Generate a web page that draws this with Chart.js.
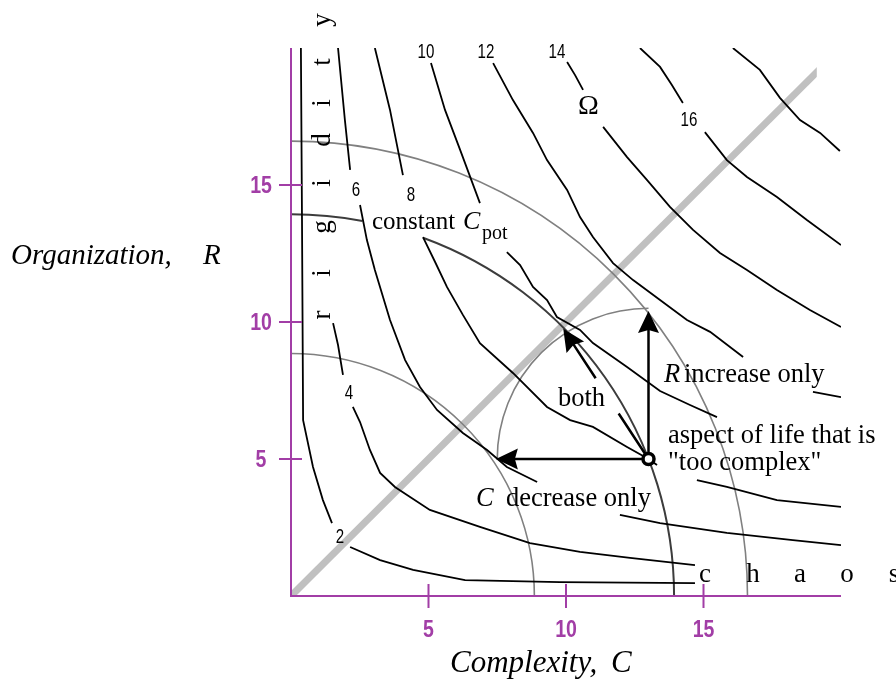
<!DOCTYPE html>
<html>
<head>
<meta charset="utf-8">
<script src="https://cdn.jsdelivr.net/npm/chart.js@4.4.1/dist/chart.umd.min.js"></script>
<style>
  html, body { margin: 0; padding: 0; background: #fff; }
  canvas { display: block; }
</style>
</head>
<body>
<canvas id="omegaChart" width="896" height="683"></canvas>
<script>
// Ω contour lines over (C, R); null marks a break where a label sits
const omega2 = [[0.36,20.0],[0.40,13.72],[0.44,6.42],[0.80,4.71],[1.16,3.50],[1.49,2.66],null,
  [2.15,1.79],[3.24,1.31],[4.44,0.95],[6.33,0.58],[9.78,0.51],[14.69,0.47]];
const omega4 = [[1.53,9.96],[1.71,9.16],[1.89,8.07],null,[2.25,6.90],[2.51,6.35],[2.87,5.33],
  [3.24,4.49],[3.78,3.98],[4.22,3.69],[5.05,3.14],[6.87,2.52],[8.69,1.93],[10.51,1.61],[12.33,1.39],[14.69,1.13]];
const omega6 = [[1.71,20.0],[1.96,17.37],[2.15,15.55],null,[2.51,14.27],[2.76,12.99],[3.05,11.90],
  [3.60,10.07],[4.15,8.61],[4.69,7.63],[5.31,6.79],[6.25,5.95],[7.13,5.33],[7.85,4.71],[8.95,4.16],null,
  [11.96,2.96],[13.42,2.66],[15.85,2.30],[18.25,2.04],[20.0,1.86]];
const omega8 = [[3.05,20.0],[3.60,17.74],[4.07,15.36],null,[4.80,13.10],[5.24,12.19],[5.67,11.28],
  [6.25,10.26],[6.87,9.23],[8.07,8.14],[9.31,6.90],[10.15,6.42],[10.98,6.17],[12.22,5.44],[13.0,5.0],
  [13.31,4.78],null,[14.76,4.23],[15.85,3.98],[17.67,3.50],[20.0,3.25]];
const omega10 = [[5.09,19.45],[5.60,17.74],[6.15,16.28],[6.87,14.34],null,[7.85,12.55],[8.33,12.08],
  [8.80,11.28],[9.31,10.80],[9.67,10.18],[10.51,9.71],[10.98,9.23],[12.22,8.36],[13.42,7.48],[14.51,6.97],[15.49,6.53]];
const omega12 = [[7.35,19.45],[8.07,18.10],[8.80,16.90],[9.31,15.91],[10.04,14.82],[10.51,13.83],
  [10.98,13.10],[11.71,12.15],[12.44,11.53],[13.42,10.80],[14.40,10.07],[15.24,9.64],[16.44,8.72],null,
  [18.98,7.45],[20.0,7.26]];
const omega14 = [[10.04,19.49],[10.33,19.01],[10.62,18.47],null,[11.35,17.12],[12.22,16.02],[12.95,15.18],
  [13.78,14.20],[14.62,13.36],[15.60,12.52],[16.58,11.90],[17.67,11.17],[18.87,10.44],[20.0,9.82]];
const omega16 = [[12.69,20.0],[13.42,19.31],[13.85,18.65],[14.25,17.99],null,[15.05,16.93],[15.85,15.91],
  [16.58,15.29],[17.67,14.56],[18.76,13.72],[20.0,12.81]];
const omega18 = [[16.07,20.0],[17.05,19.20],[17.78,18.18],[18.51,17.37],[19.24,16.90],[19.96,16.24]];

const omegaLevels = ['2', '4', '6', '8', '10', '12', '14', '16'];
const cTicks = [5, 10, 15];
const rTicks = [5, 10, 15];

// circles of constant potential complexity (radius in C,R units); the middle one is "constant C_pot"
const potRadii = [8.85, 13.93, 16.6];
// the "too complex" aspect and where each move takes it
const current = [13, 5];
const moveRadius = 5.5;
const cOnlyTarget = [7.45, 5];
const rOnlyTarget = [13, 10.4];
const bothTarget = [9.9, 9.75];
const diagonalEnd = 19.12;

// where the contour numbers sit (C, R)
const levelAnchor = [[1.78,2.23],[2.11,7.48],[2.36,14.89],[4.36,14.71],[4.91,19.93],[7.09,19.93],[9.67,19.93],[14.47,17.45]];

const purple = '#a23ea6';
const serif = '"Liberation Serif", "Times New Roman", serif';
const sans = '"Liberation Sans", Arial, sans-serif';

function toPoints(pairs) {
  return pairs.map(p => p ? {x: p[0], y: p[1]} : {x: null, y: null});
}

function contour(pairs) {
  return {
    data: toPoints(pairs),
    showLine: true,
    borderColor: '#000',
    borderWidth: 1.8,
    pointRadius: 0,
    tension: 0,
    spanGaps: false
  };
}

function arrow(ctx, x0, y0, x1, y1, gap) {
  const dx = x1 - x0, dy = y1 - y0, len = Math.hypot(dx, dy);
  const ux = dx / len, uy = dy / len;
  const head = 22, half = 10.5;
  const bx = x1 - ux * head, by = y1 - uy * head;
  ctx.beginPath();
  if (gap) {
    ctx.moveTo(x0, y0);
    ctx.lineTo(x0 + dx * gap[0], y0 + dy * gap[0]);
    ctx.moveTo(x0 + dx * gap[1], y0 + dy * gap[1]);
  } else {
    ctx.moveTo(x0, y0);
  }
  ctx.lineTo(bx + ux * 4, by + uy * 4);
  ctx.stroke();
  ctx.beginPath();
  ctx.moveTo(x1, y1);
  ctx.lineTo(bx - uy * half, by + ux * half);
  ctx.lineTo(bx + ux * 3, by + uy * 3);
  ctx.lineTo(bx + uy * half, by - ux * half);
  ctx.closePath();
  ctx.fill();
}

function squeezed(ctx, s, x, y, font, sx) {
  ctx.save();
  ctx.translate(x, y);
  ctx.scale(sx, 1);
  ctx.font = font;
  ctx.fillText(s, 0, 0);
  ctx.restore();
}

const overlay = {
  id: 'overlay',
  beforeDatasetsDraw(chart) {
    const {ctx, scales: {x, y}} = chart;
    const sx = x.getPixelForValue(1) - x.getPixelForValue(0);
    const sy = y.getPixelForValue(0) - y.getPixelForValue(1);
    const ox = x.getPixelForValue(0), oy = y.getPixelForValue(0);

    // C = R diagonal, cut square at the top end
    ctx.save();
    ctx.beginPath();
    ctx.rect(ox, 0, x.getPixelForValue(diagonalEnd) - ox, oy);
    ctx.clip();
    ctx.strokeStyle = '#c0c0c0';
    ctx.lineWidth = 7;
    ctx.beginPath();
    ctx.moveTo(ox, oy);
    ctx.lineTo(x.getPixelForValue(diagonalEnd + 1), y.getPixelForValue(diagonalEnd + 1));
    ctx.stroke();
    ctx.restore();

    ctx.save();
    potRadii.forEach((r, i) => {
      ctx.beginPath();
      if (i === 1) {
        ctx.strokeStyle = '#3c3c3c';
        ctx.lineWidth = 2;
        // broken under the "constant" label
        ctx.ellipse(ox, oy, r * sx, r * sy, 0, -Math.PI / 2, -Math.acos(2.6 / r));
        ctx.moveTo(ox + 4.8 * sx, oy - Math.sqrt(r * r - 4.8 * 4.8) * sy);
        ctx.ellipse(ox, oy, r * sx, r * sy, 0, -Math.acos(4.8 / r), 0);
      } else {
        ctx.strokeStyle = '#808080';
        ctx.lineWidth = 1.6;
        ctx.ellipse(ox, oy, r * sx, r * sy, 0, -Math.PI / 2, 0);
      }
      ctx.stroke();
    });

    // reach of one move from the current point
    const px0 = x.getPixelForValue(current[0]), py0 = y.getPixelForValue(current[1]);
    ctx.strokeStyle = '#808080';
    ctx.lineWidth = 1.6;
    ctx.beginPath();
    ctx.ellipse(px0, py0, moveRadius * sx, moveRadius * sy, 0, Math.PI, 1.5 * Math.PI);
    ctx.stroke();

    ctx.strokeStyle = '#000';
    ctx.fillStyle = '#000';
    ctx.lineWidth = 2.5;
    arrow(ctx, px0, py0, x.getPixelForValue(cOnlyTarget[0]), y.getPixelForValue(cOnlyTarget[1]));
    arrow(ctx, px0, py0, x.getPixelForValue(rOnlyTarget[0]), y.getPixelForValue(rOnlyTarget[1]));
    arrow(ctx, px0, py0, x.getPixelForValue(bothTarget[0]), y.getPixelForValue(bothTarget[1]), [0.35, 0.62]);
    ctx.restore();
  },
  afterDatasetsDraw(chart) {
    const {ctx, scales: {x, y}} = chart;
    const ox = x.getPixelForValue(0), oy = y.getPixelForValue(0);
    ctx.save();

    // purple axes with crossing ticks
    ctx.strokeStyle = purple;
    ctx.lineWidth = 2;
    ctx.beginPath();
    ctx.moveTo(ox, y.getPixelForValue(20));
    ctx.lineTo(ox, oy);
    ctx.lineTo(x.getPixelForValue(20), oy);
    cTicks.forEach(v => {
      const p = x.getPixelForValue(v);
      ctx.moveTo(p, oy - 12);
      ctx.lineTo(p, oy + 12);
    });
    rTicks.forEach(v => {
      const p = y.getPixelForValue(v);
      ctx.moveTo(ox - 12, p);
      ctx.lineTo(ox + 11, p);
    });
    ctx.stroke();

    ctx.fillStyle = purple;
    ctx.textBaseline = 'alphabetic';
    ctx.textAlign = 'center';
    cTicks.forEach(v => squeezed(ctx, String(v), x.getPixelForValue(v), oy + 41, 'bold 23px ' + sans, 0.85));
    rTicks.forEach(v => squeezed(ctx, String(v), ox - 30, y.getPixelForValue(v) + 8, 'bold 23px ' + sans, 0.85));

    // contour numbers
    ctx.fillStyle = '#000';
    omegaLevels.forEach((s, i) => {
      const [c, r] = levelAnchor[i];
      squeezed(ctx, s, x.getPixelForValue(c), y.getPixelForValue(r) + 8, '21px ' + sans, 0.72);
    });

    ctx.textAlign = 'left';
    ctx.font = '28px ' + serif;
    ctx.fillText('\u03A9', 578, 114);

    ctx.font = '25px ' + serif;
    ctx.fillText('constant', 372, 229);
    ctx.font = 'italic 26px ' + serif;
    ctx.fillText('C', 463, 229);
    ctx.font = '20px ' + serif;
    ctx.fillText('pot', 482, 239);

    const note = '26.5px ' + serif, noteItalic = 'italic 26.5px ' + serif;
    ctx.font = note;
    ctx.fillText('both', 558, 406);
    ctx.font = noteItalic;
    ctx.fillText('R', 664, 382);
    ctx.font = note;
    ctx.fillText('increase only', 684, 382);
    ctx.fillText('aspect of life that is', 668, 443);
    ctx.fillText('"too complex"', 668, 470);
    ctx.font = noteItalic;
    ctx.fillText('C', 476, 506);
    ctx.font = note;
    ctx.fillText('decrease only', 506, 506);

    // spaced-out regime words along the axes
    ctx.font = '27px ' + serif;
    ctx.textAlign = 'center';
    const chaosX = [705, 753, 800, 847, 894];
    'chaos'.split('').forEach((ch, i) => ctx.fillText(ch, chaosX[i], 582));
    const rigidityY = [315, 273, 227, 183, 140, 103, 62, 20];
    'rigidity'.split('').forEach((ch, i) => {
      ctx.save();
      ctx.translate(330, rigidityY[i]);
      ctx.rotate(-Math.PI / 2);
      ctx.fillText(ch, 0, 0);
      ctx.restore();
    });

    // axis titles
    ctx.textAlign = 'left';
    ctx.font = 'italic 29px ' + serif;
    ctx.fillText('Organization,', 11, 264);
    ctx.fillText('R', 203, 264);
    ctx.font = 'italic 31px ' + serif;
    ctx.fillText('Complexity,', 450, 672);
    ctx.fillText('C', 611, 672);
    ctx.restore();
  }
};

const ctx = document.getElementById('omegaChart').getContext('2d');
const omegaChart = new Chart(ctx, {
  type: 'scatter',
  data: {
    datasets: [
      {
        data: toPoints([current]),
        pointRadius: 5.5,
        borderWidth: 3.5,
        borderColor: '#000',
        backgroundColor: '#fff',
        showLine: false
      },
      contour(omega2), contour(omega4), contour(omega6), contour(omega8),
      contour(omega10), contour(omega12), contour(omega14), contour(omega16), contour(omega18)
    ]
  },
  options: {
    responsive: false,
    animation: false,
    devicePixelRatio: 1,
    layout: { padding: { left: 291, right: 55, top: 48, bottom: 87 } },
    scales: {
      x: { type: 'linear', min: 0, max: 20, display: false },
      y: { type: 'linear', min: 0, max: 20, display: false }
    },
    plugins: {
      legend: { display: false },
      tooltip: { enabled: false }
    }
  },
  plugins: [overlay]
});
</script>
</body>
</html>
